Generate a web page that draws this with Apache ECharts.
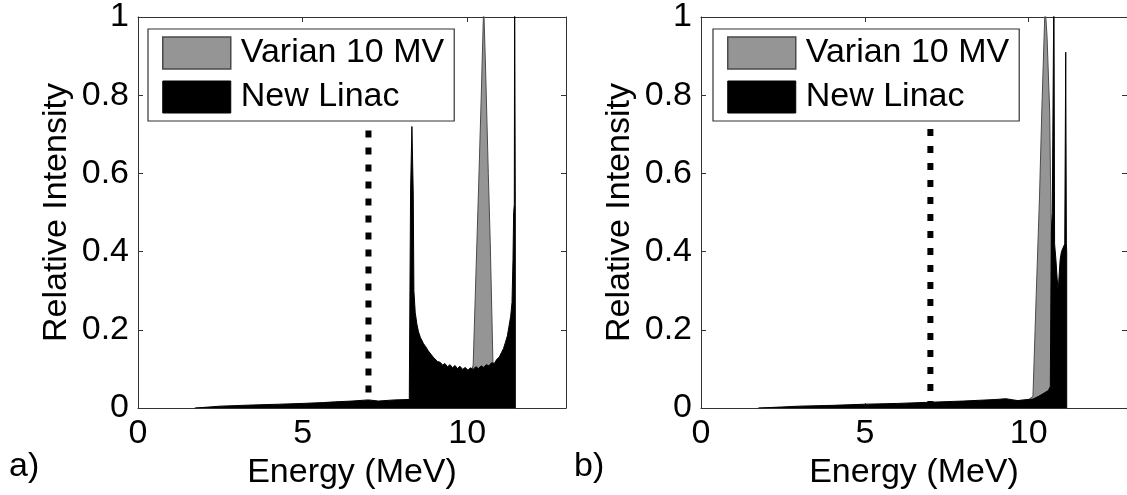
<!DOCTYPE html>
<html>
<head>
<meta charset="utf-8">
<script src="https://cdn.jsdelivr.net/npm/echarts@6/dist/echarts.min.js"></script>
<style>
html,body{margin:0;padding:0;background:#fff;}
#chart{width:1127px;height:495px;}
</style>
</head>
<body>
<div id="chart"></div>
<script>
// ---------- data ----------
const xTicks = [0, 5, 10];
const yTicks = [0, 0.2, 0.4, 0.6, 0.8, 1];
const seriesNames = ['Varian 10 MV', 'New Linac'];
const panelLabels = ['a)', 'b)'];
const thresholdEnergy = 7;          // dotted line (MeV)
const thresholdSpanA = [0.04, 0.93];
const thresholdSpanB = [0, 0.93];

// Panel a) — Varian 10 MV (grey)
const energyA_varian = [1.75, 1.75, 4.0, 6.0, 8.0, 9.0, 9.6, 9.9, 10.1, 10.18, 10.26, 10.34, 10.42, 10.5, 10.56, 10.64, 10.7, 10.78, 10.85, 10.95, 11.1];
const intensityA_varian = [0, 0.002, 0.006, 0.01, 0.016, 0.025, 0.04, 0.06, 0.085, 0.11, 0.33, 0.55, 0.78, 1.03, 0.86, 0.6, 0.42, 0.12, 0.05, 0.02, 0];

// Panel a) — New Linac (black)
const energyA_linac = [1.72, 1.72, 2.5, 3.5, 4.3, 5.0, 5.6, 6.0, 6.5, 7.0, 7.3, 7.8, 8.24, 8.26, 8.28, 8.32, 8.36, 8.38, 8.42, 8.47, 8.52, 8.58, 8.63, 8.67, 8.74, 8.82, 8.88, 8.97, 9.03, 9.1, 9.18, 9.25, 9.32, 9.4, 9.48, 9.55, 9.63, 9.7, 9.78, 9.86, 9.94, 10.02, 10.1, 10.18, 10.26, 10.34, 10.42, 10.5, 10.58, 10.66, 10.74, 10.82, 10.9, 10.97, 11.04, 11.1, 11.16, 11.22, 11.27, 11.32, 11.36, 11.39, 11.41, 11.43, 11.44, 11.45, 11.46, 11.46];
const intensityA_linac = [0, 0.003, 0.005, 0.008, 0.01, 0.012, 0.014, 0.016, 0.018, 0.021, 0.018, 0.021, 0.022, 0.3, 0.56, 0.72, 0.55, 0.3, 0.245, 0.215, 0.195, 0.18, 0.172, 0.165, 0.157, 0.146, 0.142, 0.13, 0.128, 0.119, 0.117, 0.11, 0.114, 0.106, 0.111, 0.103, 0.109, 0.101, 0.107, 0.099, 0.104, 0.097, 0.103, 0.099, 0.106, 0.101, 0.108, 0.104, 0.111, 0.108, 0.116, 0.114, 0.125, 0.13, 0.142, 0.152, 0.168, 0.185, 0.21, 0.235, 0.27, 0.38, 0.5, 0.52, 1.1, 1.1, 0.52, 0];

// Panel b) — Varian 10 MV (grey)
const energyB_varian = [1.75, 1.75, 5.0, 8.0, 9.5, 10.0, 10.13, 10.23, 10.33, 10.4, 10.5, 10.56, 10.64, 10.68, 10.75, 10.8, 10.9];
const intensityB_varian = [0, 0.002, 0.006, 0.014, 0.018, 0.022, 0.03, 0.29, 0.54, 0.76, 1.03, 0.95, 0.76, 0.5, 0.2, 0.05, 0];

// Panel b) — New Linac (black)
const energyB_linac = [1.75, 1.75, 3.0, 4.0, 5.0, 6.0, 7.0, 8.0, 8.5, 9.0, 9.3, 9.68, 10.13, 10.3, 10.5, 10.6, 10.66, 10.69, 10.72, 10.75, 10.77, 10.78, 10.79, 10.83, 10.87, 10.9, 10.93, 10.96, 11.0, 11.06, 11.1, 11.13, 11.14, 11.15, 11.16, 11.16];
const intensityB_linac = [0, 0.003, 0.005, 0.007, 0.01, 0.012, 0.015, 0.018, 0.02, 0.022, 0.024, 0.019, 0.023, 0.03, 0.04, 0.045, 0.055, 0.45, 0.5, 0.5, 1.1, 1.1, 0.42, 0.38, 0.33, 0.3, 0.295, 0.38, 0.4, 0.405, 0.42, 0.91, 0.91, 0.42, 0.4, 0];

// ---------- styling / layout ----------
const FONT = 'Liberation Sans, Arial, Helvetica, sans-serif';
const FS = 34;
const GREY = '#959595';
const GREY_EDGE = '#4a4a4a';
const AXIS = '#333';

const zip = (xs, ys) => xs.map((x, i) => [x, ys[i]]);

const grids = [
  {left: 138, top: 16, width: 428, height: 393},
  {left: 701, top: 16, width: 429, height: 393}
];

function xAxes(g) {
  const base = {
    gridIndex: g, type: 'value', min: 0, max: 13, interval: 5,
    splitLine: {show: false},
    axisLine: {show: true, onZero: false, lineStyle: {color: AXIS, width: 1}},
    axisTick: {show: true, inside: true, length: 5, lineStyle: {color: AXIS}}
  };
  return [
    Object.assign({}, base, {
      position: 'bottom',
      axisLabel: {show: true, fontSize: FS, fontFamily: FONT, color: '#000', margin: 9, showMaxLabel: false,
        formatter: v => xTicks.includes(v) ? String(v) : ''},
      name: 'Energy (MeV)', nameLocation: 'middle', nameGap: 47,
      nameTextStyle: {fontSize: FS, fontFamily: FONT, color: '#000'}
    }),
    Object.assign({}, base, {position: 'top', axisLabel: {show: false}})
  ];
}
function yAxes(g) {
  const base = {
    gridIndex: g, type: 'value', min: 0, max: 1, interval: 0.2,
    splitLine: {show: false},
    axisLine: {show: true, onZero: false, lineStyle: {color: AXIS, width: 1}},
    axisTick: {show: true, inside: true, length: 5, lineStyle: {color: AXIS}}
  };
  return [
    Object.assign({}, base, {
      position: 'left',
      axisLabel: {show: true, fontSize: FS, fontFamily: FONT, color: '#000', margin: 9,
        formatter: v => yTicks.includes(+v.toFixed(1)) ? String(+v.toFixed(1)) : ''},
      name: 'Relative Intensity', nameLocation: 'middle', nameGap: 64,
      nameTextStyle: {fontSize: FS, fontFamily: FONT, color: '#000'}
    }),
    Object.assign({}, base, {position: 'right', axisLabel: {show: false}})
  ];
}

function spectrum(name, data, g, fill, edge, z) {
  return {
    name: name, type: 'line', xAxisIndex: 2 * g, yAxisIndex: 2 * g,
    data: data, showSymbol: false, symbol: 'none', smooth: false,
    lineStyle: {color: edge, width: 1},
    itemStyle: {color: fill},
    areaStyle: {color: fill, opacity: 1, origin: 'start'},
    clip: true, silent: true, z: z
  };
}
function threshold(span, g) {
  return {
    type: 'line', xAxisIndex: 2 * g, yAxisIndex: 2 * g,
    data: [[thresholdEnergy, span[0]], [thresholdEnergy, span[1]]],
    showSymbol: false, symbol: 'none',
    lineStyle: {color: '#000', width: 6, type: [7, 10], cap: 'butt'},
    clip: true, silent: true, z: 5
  };
}

function legend(left) {
  return {
    left: left, top: 29, orient: 'vertical', selectedMode: false,
    padding: [7, 10, 7, 14], itemWidth: 68, itemHeight: 32, itemGap: 10,
    borderColor: AXIS, borderWidth: 1.2, borderRadius: 0, backgroundColor: '#fff',
    textStyle: {fontSize: FS, fontFamily: FONT, color: '#000', padding: [0, 0, 0, 5]},
    z: 10,
    data: [
      {name: seriesNames[0], icon: 'rect', itemStyle: {color: GREY, borderColor: GREY_EDGE, borderWidth: 1.5}},
      {name: seriesNames[1], icon: 'rect', itemStyle: {color: '#000', borderColor: '#000', borderWidth: 1}}
    ]
  };
}

const option = {
  animation: false,
  backgroundColor: '#fff',
  grid: grids,
  xAxis: [...xAxes(0), ...xAxes(1)],
  yAxis: [...yAxes(0), ...yAxes(1)],
  legend: [legend(148), legend(713)],
  series: [
    spectrum(seriesNames[0], zip(energyA_varian, intensityA_varian), 0, GREY, GREY_EDGE, 2),
    spectrum(seriesNames[1], zip(energyA_linac, intensityA_linac), 0, '#000', '#000', 3),
    threshold(thresholdSpanA, 0),
    spectrum(seriesNames[0], zip(energyB_varian, intensityB_varian), 1, GREY, GREY_EDGE, 2),
    spectrum(seriesNames[1], zip(energyB_linac, intensityB_linac), 1, '#000', '#000', 3),
    threshold(thresholdSpanB, 1)
  ],
  graphic: [
    {type: 'text', left: 9, top: 450, style: {text: panelLabels[0], fontSize: FS, fontFamily: FONT, fill: '#000'}},
    {type: 'text', left: 574, top: 450, style: {text: panelLabels[1], fontSize: FS, fontFamily: FONT, fill: '#000'}}
  ]
};

const chart = echarts.init(document.getElementById('chart'), null, {renderer: 'canvas'});
chart.setOption(option);
</script>
</body>
</html>
